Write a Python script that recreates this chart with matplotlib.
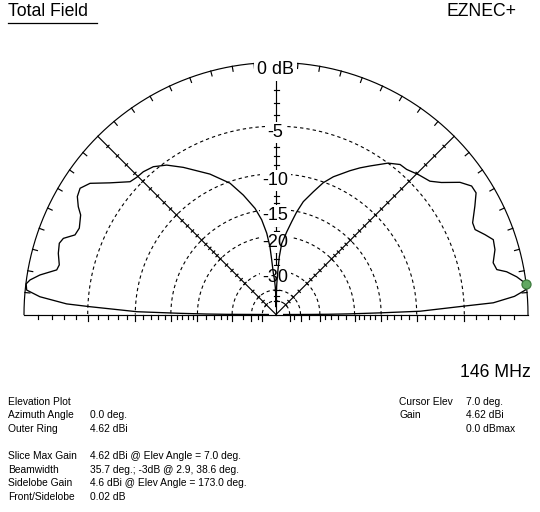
import numpy as np
import matplotlib
matplotlib.use('Agg')
import matplotlib.pyplot as plt
from matplotlib.lines import Line2D

# ---------------- data ----------------
elev_deg = [0, 0.06, 0.12, 0.25, 0.5, 0.9, 1.3, 2.54, 3.08, 4.35, 5.6, 7.0,
            8.9, 10.5, 11.5, 13.4, 16.5, 19.0, 20.9, 23.1, 25.0, 28.6, 31.3,
            33.3, 35.7, 38.6, 40.9, 44.5, 48.0, 50.4, 53.5, 57.7, 60.2, 62.8,
            67.4, 70.3, 73.1, 76.4, 78.6, 80.4, 82.6, 85.4, 86.7, 87.5, 88.5,
            89.5, 90.0, 90.5, 91.5, 92.5, 93.7, 94.5, 95.1, 96.5, 98.6, 101.2,
            105.3, 109.3, 115.2, 122.2, 126.2, 129.7, 132.9, 135.4, 137.7,
            141.6, 144.8, 147.2, 149.3, 151.4, 153.0, 156.3, 158.4, 160.3,
            161.8, 164.3, 167.1, 168.5, 170.5, 172.0, 173.0, 174.4, 175.7,
            177.1, 177.6, 178.85, 179.3, 179.6, 179.8, 180]
gain_db = [-60, -40, -34, -27, -21, -15.2, -9.6, -5.07, -2.52, -0.9, -0.1, 0.0,
           -0.58, -1.23, -1.92, -2.08, -1.69, -1.58, -2.04, -2.61, -2.57, -1.83,
           -1.26, -1.27, -1.83, -3.0, -3.66, -4.0, -4.38, -4.43, -5.0, -6.19,
           -6.86, -7.62, -9.0, -10.1, -11.6, -13.3, -15.1, -16.9, -19.0, -21.7,
           -25.2, -29.7, -36, -45, -60, -45, -38, -34, -31, -26.2, -22.5, -19.3,
           -16.6, -14.5, -12.2, -10.2, -8.32, -6.37, -5.29, -4.66, -4.41, -4.36,
           -4.2, -2.97, -1.75, -1.34, -1.49, -1.93, -2.39, -2.74, -2.63, -1.88,
           -1.71, -1.86, -2.15, -2.04, -0.88, -0.25, -0.02, -0.1, -1.07, -3.16,
           -5.2, -10.2, -16.6, -22, -28, -60]

ring_db = [-5, -10, -15, -20, -30, -40, -50]
label_db = [-5, -10, -15, -20, -30]
label_text = ['-5', '-10', '-15', '-20', '-30']
tick_db = (list(range(-1, -21, -1)) + list(range(-22, -31, -2))
           + [-35, -40, -45, -50])
major_tick_db = ring_db
outer_tick_deg = [a for a in range(5, 180, 5) if a not in (45, 90, 135)]
axis_deg = [45, 90, 135]

cursor_elev = 7.0
cursor_db = 0.0

title = 'Total Field'
brand = 'EZNEC+'
freq = '146 MHz'
top_label = '0 dB'
info_labels = ['Elevation Plot', 'Azimuth Angle', 'Outer Ring', '',
               'Slice Max Gain', 'Beamwidth', 'Sidelobe Gain', 'Front/Sidelobe']
info_values = ['', '0.0 deg.', '4.62 dBi', '',
               '4.62 dBi @ Elev Angle = 7.0 deg.',
               '35.7 deg.; -3dB @ 2.9, 38.6 deg.',
               '4.6 dBi @ Elev Angle = 173.0 deg.',
               '0.02 dB']
cursor_labels = ['Cursor Elev', 'Gain', '']
cursor_values = ['7.0 deg.', '4.62 dBi', '0.0 dBmax']

# ---------------- helpers ----------------
def arrl(db):
    """ARRL log scale: radius fraction for a gain in dB (0 dB = outer ring)."""
    return 0.89 ** (-np.asarray(db, dtype=float) / 2.0)

plt.rcParams['font.family'] = ['Liberation Sans', 'DejaVu Sans']
plt.rcParams['lines.scale_dashes'] = False

W, H = 540, 512
CX, CY, R = 276.0, 314.5, 252.0
px = 1.0 / R   # one pixel in data units

fig = plt.figure(figsize=(W / 100, H / 100), dpi=100)
fig.patch.set_facecolor('white')
ax = fig.add_axes([0, 0, 1, 1])
ax.set_xlim(-CX / R, (W - CX) / R)
ax.set_ylim(-(H - CY) / R, CY / R)
ax.axis('off')

LW = 0.85
K = 'black'

# outer ring
th = np.linspace(0, np.pi, 721)
ax.plot(np.cos(th), np.sin(th), color=K, lw=LW, zorder=2)
# baseline
ax.plot([-1, 1], [0, 0], color=K, lw=LW, zorder=2)

# dashed rings
for db in ring_db:
    r = arrl(db)
    ax.plot(r * np.cos(th), r * np.sin(th), color=K, lw=0.8,
            dashes=(2.4, 2.2), zorder=1)

# radial axes
for a in axis_deg:
    t = np.deg2rad(a)
    ax.plot([0, np.cos(t)], [0, np.sin(t)], color=K, lw=LW, zorder=2)

# outer ring ticks (every 5 deg, pointing inward)
for a in outer_tick_deg:
    t = np.deg2rad(a)
    ax.plot([np.cos(t), (1 - 5 * px) * np.cos(t)],
            [np.sin(t), (1 - 5 * px) * np.sin(t)], color=K, lw=LW, zorder=2)

# dB ticks on the radial axes and the baseline
for db in tick_db:
    r = float(arrl(db))
    # vertical axis: short horizontal ticks
    ax.plot([-2.5 * px, 2.5 * px], [r, r], color=K, lw=LW, zorder=2)
    # diagonals: small perpendicular ticks
    for a in (45, 135):
        t = np.deg2rad(a)
        cx, cy = r * np.cos(t), r * np.sin(t)
        nx, ny = -np.sin(t), np.cos(t)
        ax.plot([cx - 1.6 * px * nx, cx + 1.6 * px * nx],
                [cy - 1.6 * px * ny, cy + 1.6 * px * ny], color=K, lw=LW,
                zorder=2)
    # baseline: ticks downward
    ln = 6 if db in major_tick_db else 4
    for s in (-1, 1):
        ax.plot([s * r, s * r], [0, -ln * px], color=K, lw=LW, zorder=2)

# ring labels on the vertical axis
for db, txt in zip(label_db, label_text):
    r = float(arrl(db))
    ax.text(-0.5 * px, r - 11 * px, txt, ha='center', va='baseline',
            fontsize=13, color=K, zorder=3,
            bbox=dict(facecolor='white', edgecolor='none', pad=1.5))

ax.text(-0.5 * px, (CY - 74) * px, top_label, ha='center', va='baseline',
        fontsize=12.9, color=K, zorder=3,
        bbox=dict(facecolor='white', edgecolor='none', pad=2.5))

# pattern
t = np.deg2rad(np.asarray(elev_deg))
r = arrl(gain_db)
ax.plot(r * np.cos(t), r * np.sin(t), color=K, lw=0.95, zorder=4)

# cursor marker
tc = np.deg2rad(cursor_elev)
rc = float(arrl(cursor_db))
ax.plot([rc * np.cos(tc)], [rc * np.sin(tc)], 'o', ms=6.5,
        mfc='#62a862', mec='#3c7a3c', mew=0.9, zorder=5)

# ---------------- texts ----------------
def fx(x):
    return x / W

def fy(y):
    return 1 - y / H

fig.text(fx(8.3), fy(16), title, ha='left', va='baseline', fontsize=12.7)
fig.add_artist(Line2D([fx(8), fx(97)], [fy(22.7), fy(22.7)], color=K, lw=0.9))
fig.text(fx(517), fy(16), brand, ha='right', va='baseline', fontsize=12.7)
fig.text(fx(531), fy(376.7), freq, ha='right', va='baseline', fontsize=12.7)

info_base = [405, 418.4, 432.4, 445.9, 459.4, 472.7, 486, 500]
for y, lab, val in zip(info_base, info_labels, info_values):
    if lab:
        fig.text(fx(8.3), fy(y), lab, ha='left', va='baseline', fontsize=7.4)
    if val:
        fig.text(fx(90), fy(y), val, ha='left', va='baseline', fontsize=7.4)

cur_base = [405, 418.4, 431.7]
for y, lab, val in zip(cur_base, cursor_labels, cursor_values):
    if lab:
        fig.text(fx(399), fy(y), lab, ha='left', va='baseline', fontsize=7.4)
    if val:
        fig.text(fx(465.7), fy(y), val, ha='left', va='baseline', fontsize=7.4)

fig.savefig('out.png', dpi=100, facecolor='white')
